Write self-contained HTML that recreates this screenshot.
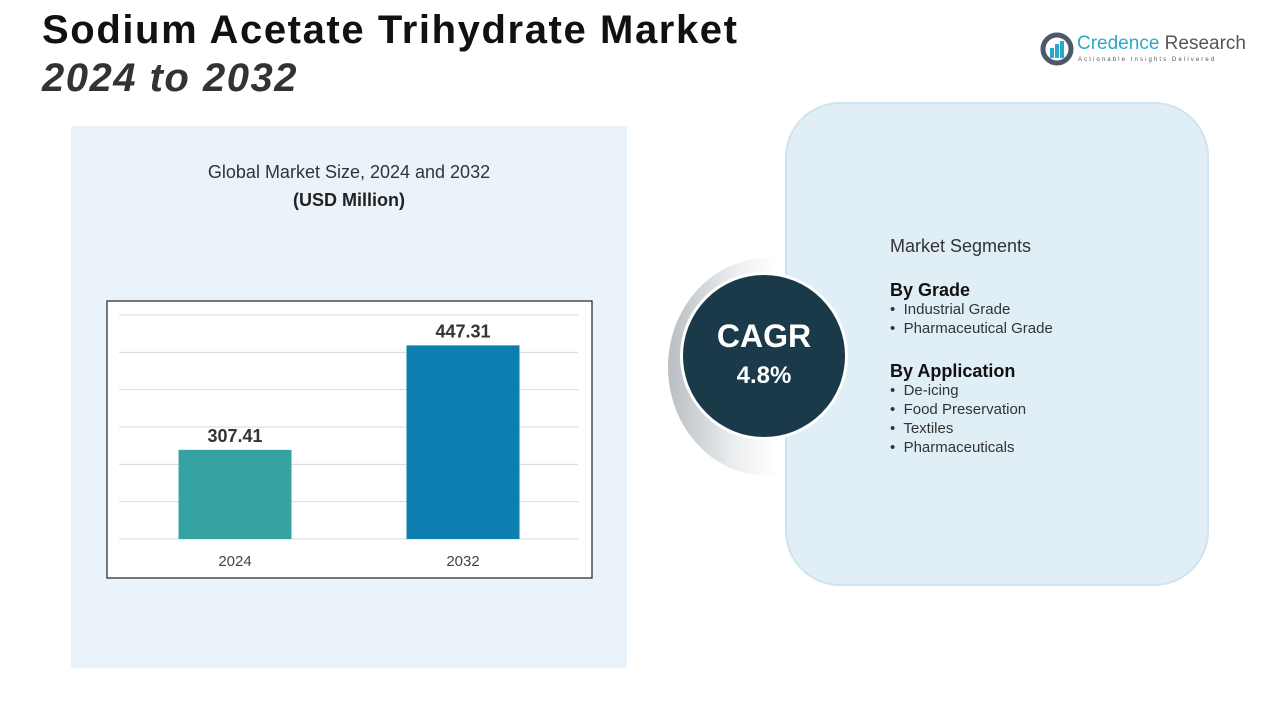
<!DOCTYPE html>
<html><head><meta charset="utf-8"><style>
body{margin:0;width:1280px;height:720px;background:#fff;font-family:"Liberation Sans",sans-serif;position:relative;overflow:hidden}
.abs{position:absolute}
</style></head><body>
<div class="abs" style="left:42px;top:8px;font-size:40px;font-weight:bold;color:#111;letter-spacing:1.6px;white-space:nowrap">Sodium Acetate Trihydrate Market</div>
<div class="abs" style="left:42px;top:56px;font-size:40px;font-weight:bold;font-style:italic;color:#333;letter-spacing:1.5px">2024 to 2032</div>
<div class="abs" style="left:1040px;top:32px;width:220px;height:36px">
 <svg width="34" height="34" viewBox="0 0 34 34" style="position:absolute;left:0;top:0"><circle cx="17" cy="17" r="14" fill="none" stroke="#4a5a6a" stroke-width="5"/><rect x="10" y="16" width="4" height="10" fill="#2aa9c9"/><rect x="15" y="12" width="4" height="14" fill="#2aa9c9"/><rect x="20" y="9" width="4" height="17" fill="#2aa9c9"/></svg>
 <div class="abs" style="left:37px;top:1px;font-size:19px;color:#2aa9c9;white-space:nowrap">Credence <span style="color:#555">Research</span></div>
 <div class="abs" style="left:38px;top:25px;font-size:6px;letter-spacing:2.1px;color:#555;white-space:nowrap">Actionable Insights Delivered</div>
</div>
<div class="abs" style="left:71px;top:126px;width:556px;height:542px;background:#eaf3f9"></div>
<div class="abs" style="left:71px;top:162px;width:556px;text-align:center;font-size:18px;color:#333">Global Market Size, 2024 and 2032</div>
<div class="abs" style="left:71px;top:190px;width:556px;text-align:center;font-size:18px;font-weight:bold;color:#222">(USD Million)</div>
<svg class="abs" style="left:0;top:0" width="1280" height="720">
<rect x="107" y="301" width="485" height="277" fill="#fff" stroke="#222" stroke-width="1.2"/>
<g id="g"></g>
</svg>
<div class="abs" style="left:668px;top:258px;width:200px;height:218px;border-radius:50%;background:linear-gradient(to right,#b8bec2,#eef0f1 35%,#fff 55%)"></div>
<div class="abs" style="left:785px;top:102px;width:424px;height:484px;border-radius:55px;background:#e0eef6;border:2px solid #cfe4f0;box-sizing:border-box"></div>
<div class="abs" style="left:680px;top:272px;width:168px;height:168px;border-radius:50%;background:#1a3a4a;border:3px solid #fff;box-sizing:border-box"></div>
<div class="abs" style="left:680px;top:318px;width:168px;text-align:center;color:#fff;font-size:32px;font-weight:bold">CAGR</div>
<div class="abs" style="left:680px;top:362px;width:168px;text-align:center;color:#fff;font-size:24px;font-weight:bold">4.8%</div>
<div class="abs" style="left:890px;top:237px;font-size:15px;color:#333;line-height:19px">
 <div style="font-size:18px;margin-bottom:25px">Market Segments</div>
 <div style="font-size:18px;font-weight:bold;color:#111">By Grade</div>
 <div>•&nbsp; Industrial Grade</div><div>•&nbsp; Pharmaceutical Grade</div>
 <div style="font-size:18px;font-weight:bold;color:#111;margin-top:24px">By Application</div>
 <div>•&nbsp; De-icing</div><div>•&nbsp; Food Preservation</div><div>•&nbsp; Textiles</div><div>•&nbsp; Pharmaceuticals</div>
</div>
<script>
const categories=["2024","2032"];
const values=[307.41,447.31];
const labels=["307.41","447.31"];
const colors=["#36a3a3","#0c7fb0"];
const yMin=188,yMax=488,yStep=50;
const base=539,top_=315;
function y(v){return base-(v-yMin)/(yMax-yMin)*(base-top_);}
function x(i){return 235+i*228;}
const g=document.getElementById('g');const NS='http://www.w3.org/2000/svg';
for(let v=yMin;v<=yMax;v+=yStep){const l=document.createElementNS(NS,'line');


l.setAttribute('x1',119);l.setAttribute('x2',578);l.setAttribute('y1',y(v));l.setAttribute('y2',y(v));l.setAttribute('stroke','#d9d9d9');g.appendChild(l);}
categories.forEach((c,i)=>{const r=document.createElementNS(NS,'rect');


r.setAttribute('x',x(i)-56.5);r.setAttribute('width',113);r.setAttribute('y',y(values[i]));r.setAttribute('height',base-y(values[i]));r.setAttribute('fill',colors[i]);g.appendChild(r);
const t=document.createElementNS(NS,'text');


t.setAttribute('x',x(i));t.setAttribute('y',y(values[i])-8);t.setAttribute('text-anchor','middle');t.setAttribute('font-size','18');t.setAttribute('font-weight','bold');t.setAttribute('fill','#333');t.textContent=labels[i];g.appendChild(t);
const a=document.createElementNS(NS,'text');


a.setAttribute('x',x(i));a.setAttribute('y',566);a.setAttribute('text-anchor','middle');a.setAttribute('font-size','15');a.setAttribute('fill','#444');a.textContent=c;g.appendChild(a);});
</script>
</body></html>
